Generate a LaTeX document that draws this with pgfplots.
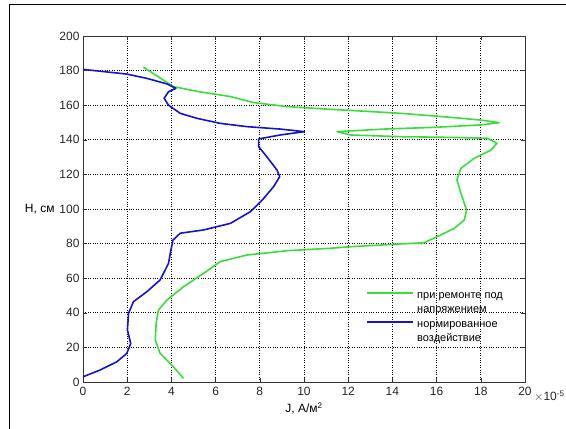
\documentclass[border=0pt]{standalone}
\usepackage{fontspec}
\setmainfont{Liberation Sans}
\usepackage{pgfplots}
\pgfplotsset{compat=1.18}
\definecolor{mgreen}{RGB}{60,220,60}
\definecolor{mblue}{RGB}{20,20,200}
\begin{document}
\begin{tikzpicture}
\path[use as bounding box] (0pt,0pt) rectangle (566pt,429pt);
\draw[line width=1pt] (9pt,0pt) -- (9pt,424pt) -- (566pt,424pt);
\begin{axis}[
  at={(83pt,47pt)}, anchor=south west,
  width=442pt, height=346pt, scale only axis,
  xmin=0, xmax=20, ymin=0, ymax=200,
  xtick={0,2,...,20}, ytick={0,20,...,200},
  grid=major,
  major grid style={black, dotted, line width=0.6pt},
  axis line style={black!80, line width=0.8pt},
  tick align=inside, tick pos=both,
  major tick length=4pt,
  tick style={black!80},
  /pgf/number format/assume math mode=true,
  tick label style={font=\fontsize{12}{14}\selectfont, black!85},
  xticklabel style={yshift=-2pt},
  xlabel={J, A/м\textsuperscript{2}},
  ylabel={H, см},
  label style={font=\fontsize{12}{14}\selectfont},
  ylabel style={rotate=-90, xshift=2pt},
  legend cell align=left,
  legend style={draw=none, fill=none, font=\fontsize{11}{14}\selectfont,
    at={(rel axis cs:0.639,0.28)}, anchor=north west,
    inner sep=1pt},
]
\addplot[mgreen, line width=1.6pt, line join=round,
  legend image code/.code={\draw[mgreen, line width=1.6pt] (0pt,8pt) -- (46pt,8pt);}] coordinates {
(2.73,182) (4.1,170.7) (5.16,168) (6.67,165) (7.72,161.5) (9.24,159.2)
(11.2,157.6) (12.1,157) (14.38,155.3) (16.64,153) (18.0,151.4) (18.83,149.9)
(18.0,148.6) (15.89,147.2) (13.62,146.2) (11.5,144.7) (12.1,142.8) (14.38,141.8)
(16.64,141.4) (18.3,140.9) (18.73,138) (18.46,134) (17.7,129.3) (17.1,123.5)
(16.92,116.8) (17.1,109) (17.36,99.4) (17.25,93.6) (16.8,88.8) (16.19,85)
(15.43,80.5) (14.38,79.8) (12.1,78.2) (11.2,77.3) (9.24,75.9) (7.42,73.4)
(6.21,69.6) (5.46,62.8) (4.55,55.1) (3.8,47.4) (3.41,41.6) (3.31,33.9)
(3.27,24.3) (3.49,16.5) (4.02,9.8) (4.55,2.1)
};
\addlegendentry{\begin{tabular}[b]{@{\hspace{1pt}}l@{}}при ремонте под\\напряжением\end{tabular}}
\addplot[mblue, line width=1.6pt, line join=round,
  legend image code/.code={\draw[mblue, line width=1.6pt] (0pt,8pt) -- (46pt,8pt);}] coordinates {
(0,180.7) (1.98,178) (2.89,175.5) (3.8,172.3) (4.2,169.7) (3.87,167.8)
(3.67,164) (3.87,160) (4.4,155.3) (5.16,152.4) (6.21,149.5) (7.42,147.6)
(8.93,146.2) (10.02,144.7) (8.93,142.8) (7.95,140.5) (7.95,136) (8.33,130)
(8.78,122.5) (8.9,118.7) (8.63,113) (8.1,105) (7.57,98.4) (6.67,91.7)
(5.46,87.9) (4.4,86) (4.07,82) (3.95,74.4) (3.87,68.6) (3.49,59)
(2.89,52.2) (2.28,46.4) (2.06,39.7) (2.01,30) (2.16,22.3) (1.98,16.5)
(1.53,11.7) (0.77,6.9) (0,3)
};
\addlegendentry{\begin{tabular}[b]{@{\hspace{1pt}}l@{}}нормированное\\воздействие\end{tabular}}
\end{axis}
\node[anchor=west, font=\fontsize{12}{14}\selectfont, text=black!85, inner sep=0pt] at (534pt,33pt) {$\times$10\textsuperscript{-5}};
\end{tikzpicture}
\end{document}
